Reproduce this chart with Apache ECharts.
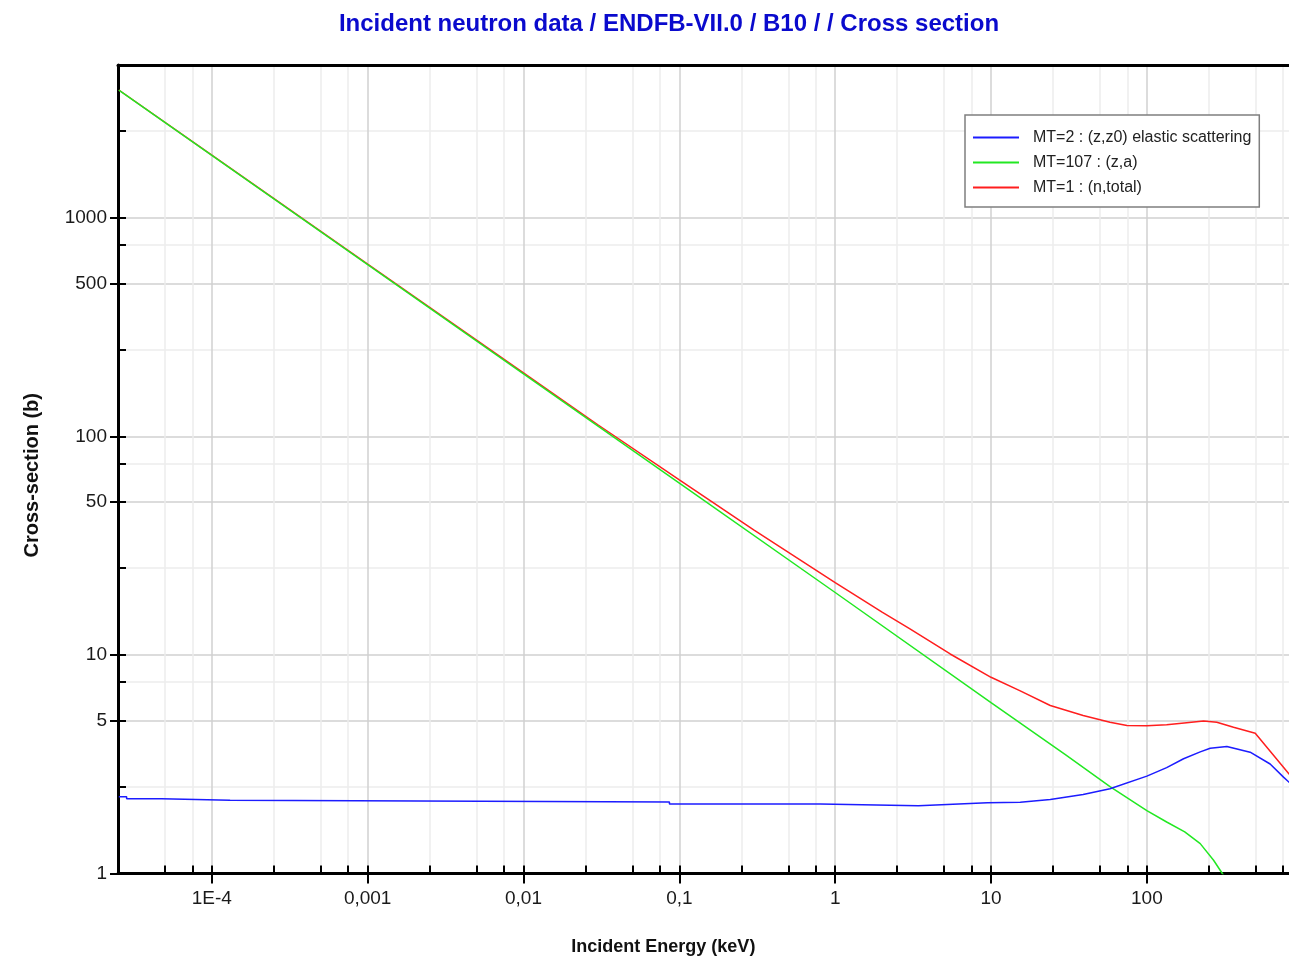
<!DOCTYPE html>
<html>
<head>
<meta charset="utf-8">
<script src="https://cdn.jsdelivr.net/npm/echarts@6.0.0/dist/echarts.min.js"></script>
<style>
  html, body { margin: 0; padding: 0; background: #fff; }
  #main { width: 1289px; height: 958px; }
</style>
</head>
<body>
<div id="main"></div>
<script>
// incident energy (keV) / cross section (b)
var elasticE = [2.53e-5, 2.84e-5, 2.84e-5, 4.76e-5, 4.76e-5, 1.31e-4, 1.31e-4, 0.0864, 0.0864, 0.801, 0.801, 3.42, 3.42, 9.49, 15.4, 24, 39, 58, 100, 134, 172, 220, 255, 326, 460, 618, 753, 815, 1000];
var elasticS = [2.245, 2.245, 2.198, 2.198, 2.161, 2.161, 2.123, 2.123, 2.078, 2.078, 2.042, 2.042, 2.078, 2.108, 2.12, 2.18, 2.3, 2.44, 2.79, 3.05, 3.35, 3.6, 3.74, 3.81, 3.59, 3.17, 2.76, 2.62, 2.23];

var alphaE = [2.53e-5, 1e-4, 1e-3, 0.01, 0.1, 1, 10, 30, 58, 100, 134, 175, 220, 268, 305, 400];
var alphaS = [3840, 1931, 611, 193, 61.1, 19.3, 6.05, 3.5, 2.5, 1.94, 1.72, 1.55, 1.37, 1.15, 1.0, 0.75];

var totalE = [2.53e-5, 1e-4, 1e-3, 0.01, 0.03, 0.1, 0.3, 1, 2, 3, 5.47, 10, 15.4, 24, 39, 58, 74.5, 100, 134, 180, 231, 281, 360, 496, 815, 1000];
var totalS = [3842, 1933, 613, 195, 113, 63.2, 37.3, 21.4, 15.7, 13.2, 10.1, 7.9, 6.85, 5.87, 5.28, 4.92, 4.75, 4.74, 4.79, 4.9, 4.98, 4.92, 4.67, 4.38, 2.86, 2.4];

var seriesNames = ['MT=2 : (z,z0) elastic scattering', 'MT=107 : (z,a)', 'MT=1 : (n,total)'];

var xTickValues = [1e-4, 1e-3, 0.01, 0.1, 1, 10, 100];
var xTickLabels = ['1E-4', '0,001', '0,01', '0,1', '1', '10', '100'];
var yTickValues = [1, 5, 10, 50, 100, 500, 1000];
var yTickLabels = ['1', '5', '10', '50', '100', '500', '1000'];

var xMin = 2.5e-5, xMax = 1000, yMin = 1, yMax = 5000;

function pairs(xs, ys) {
  return xs.map(function (x, i) { return [x, ys[i]]; });
}

// minor ticks at 2.5, 5, 7.5 of each decade
function logTicks(from, to, lo, hi) {
  var out = [];
  for (var p = from; p <= to; p++) {
    [1, 2.5, 5, 7.5].forEach(function (m) {
      var v = +(m * Math.pow(10, p)).toPrecision(6);
      if (v > lo && v < hi) out.push(v);
    });
  }
  return out;
}
function mant(v) {
  return +(v / Math.pow(10, Math.floor(Math.log10(v) + 1e-9))).toFixed(3);
}

var xAll = logTicks(-5, 3, xMin, xMax);
var yAll = logTicks(0, 4, yMin, yMax);
var xGridColors = xAll.map(function (v) { return mant(v) === 1 ? '#d0d0d0' : '#ececec'; });
var yGridColors = yAll.map(function (v) { var m = mant(v); return (m === 1 || m === 5) ? '#d0d0d0' : '#ececec'; });

function labelFor(values, labels) {
  return function (v) {
    for (var i = 0; i < values.length; i++) {
      if (Math.abs(Math.log10(v) - Math.log10(values[i])) < 1e-6) return labels[i];
    }
    return '';
  };
}

var chart = echarts.init(document.getElementById('main'));

var option = {
  animation: false,
  backgroundColor: '#fff',
  title: {
    text: 'Incident neutron data / ENDFB-VII.0 / B10 / / Cross section',
    left: 664,
    top: 7,
    textAlign: 'center',
    textStyle: { fontFamily: 'Liberation Sans', fontSize: 24, fontWeight: 'bold', color: '#0a0acd' }
  },
  legend: {
    orient: 'vertical',
    left: 965,
    top: 115,
    data: seriesNames,
    icon: 'rect',
    itemWidth: 46,
    itemHeight: 2,
    itemGap: 8,
    padding: [14, 8, 11, 8],
    backgroundColor: '#fff',
    borderColor: '#7f7f7f',
    borderWidth: 1.5,
    borderRadius: 0,
    textStyle: { fontFamily: 'Liberation Sans', fontSize: 16, color: '#222', lineHeight: 17, padding: [0, 0, 0, 9] }
  },
  grid: {
    left: 118,
    top: 65,
    width: 1184.7,
    height: 808.5,
    outerBoundsMode: 'none',
    containLabel: false,
    show: false
  },
  xAxis: [
    {
      type: 'log',
      logBase: 10,
      min: xMin,
      max: xMax,
      position: 'bottom',
      name: 'Incident Energy (keV)',
      nameLocation: 'middle',
      nameGap: 65,
      nameTextStyle: { fontFamily: 'Liberation Sans', fontSize: 18, fontWeight: 'bold', color: '#111', padding: [0, 94, 0, 0] },
      axisLine: { onZero: false, lineStyle: { color: '#000', width: 3 } },
      axisTick: { customValues: xTickValues, inside: false, length: 10, lineStyle: { color: '#000', width: 2 } },
      axisLabel: { customValues: xTickValues, margin: 16, fontFamily: 'Liberation Sans', fontSize: 19, color: '#1a1a1a', formatter: labelFor(xTickValues, xTickLabels) },
      splitLine: { show: false },
      minorTick: { show: false }
    },
    {
      type: 'log',
      logBase: 10,
      min: xMin,
      max: xMax,
      position: 'bottom',
      axisLine: { show: false, onZero: false },
      axisTick: { customValues: xAll, inside: true, length: 8, lineStyle: { color: '#000', width: 2 } },
      axisLabel: { show: false },
      splitLine: { show: true, lineStyle: { color: xGridColors, width: 1.5 } }
    },
    {
      // top frame line
      type: 'log',
      logBase: 10,
      min: xMin,
      max: xMax,
      position: 'top',
      axisLine: { show: true, onZero: false, lineStyle: { color: '#000', width: 3 } },
      axisTick: { show: false },
      axisLabel: { show: false },
      splitLine: { show: false }
    }
  ],
  yAxis: [
    {
      type: 'log',
      logBase: 10,
      min: yMin,
      max: yMax,
      position: 'left',
      name: 'Cross-section (b)',
      nameLocation: 'middle',
      nameRotate: 90,
      nameGap: 76,
      nameTextStyle: { fontFamily: 'Liberation Sans', fontSize: 20, fontWeight: 'bold', color: '#111', padding: [0, 12, 0, 0] },
      axisLine: { onZero: false, lineStyle: { color: '#000', width: 3 } },
      axisTick: { customValues: yTickValues, inside: false, length: 8, lineStyle: { color: '#000', width: 2 } },
      axisLabel: { customValues: yTickValues, margin: 11, fontFamily: 'Liberation Sans', fontSize: 19, color: '#1a1a1a', formatter: labelFor(yTickValues, yTickLabels) },
      splitLine: { show: false },
      minorTick: { show: false }
    },
    {
      type: 'log',
      logBase: 10,
      min: yMin,
      max: yMax,
      position: 'left',
      axisLine: { show: false, onZero: false },
      axisTick: { customValues: yAll, inside: true, length: 8, lineStyle: { color: '#000', width: 2 } },
      axisLabel: { show: false },
      splitLine: { show: true, lineStyle: { color: yGridColors, width: 1.5 } }
    }
  ],
  series: [
    {
      name: seriesNames[2],
      type: 'line',
      xAxisIndex: 0,
      yAxisIndex: 0,
      data: pairs(totalE, totalS),
      showSymbol: false,
      color: '#ff1e1e',
      lineStyle: { color: '#ff1e1e', width: 1.5 },
      z: 2
    },
    {
      name: seriesNames[1],
      type: 'line',
      xAxisIndex: 0,
      yAxisIndex: 0,
      data: pairs(alphaE, alphaS),
      showSymbol: false,
      color: '#22e822',
      lineStyle: { color: '#22e822', width: 1.5 },
      z: 3
    },
    {
      name: seriesNames[0],
      type: 'line',
      xAxisIndex: 0,
      yAxisIndex: 0,
      data: pairs(elasticE, elasticS),
      showSymbol: false,
      color: '#1c1cff',
      lineStyle: { color: '#1c1cff', width: 1.5 },
      z: 4
    }
  ]
};

chart.setOption(option);
</script>
</body>
</html>
